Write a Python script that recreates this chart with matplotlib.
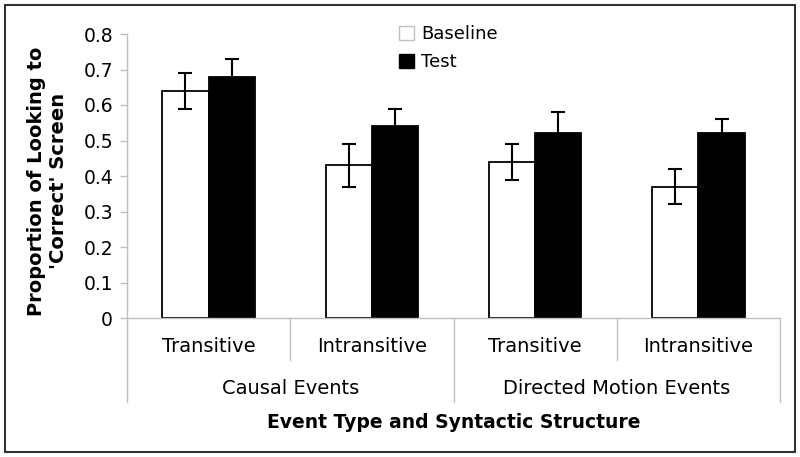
import matplotlib
matplotlib.use("Agg")
import matplotlib.pyplot as plt
from matplotlib.patches import Rectangle
import numpy as np

plt.rcParams['font.family'] = ['DejaVu Sans']

sub_labels = ["Transitive", "Intransitive", "Transitive", "Intransitive"]
group_labels = ["Causal Events", "Directed Motion Events"]
series_names = ["Baseline", "Test"]
baseline = [0.64, 0.43, 0.44, 0.37]
baseline_err = [0.05, 0.06, 0.05, 0.05]
test = [0.68, 0.54, 0.52, 0.52]
test_err = [0.05, 0.05, 0.06, 0.04]
yticks = [0, 0.1, 0.2, 0.3, 0.4, 0.5, 0.6, 0.7, 0.8]

W, H = 800, 457
fig = plt.figure(figsize=(W/100, H/100), dpi=100)
ax = fig.add_axes([127/W, 1-318/H, (780-127)/W, (318-34)/H])

x = np.arange(len(sub_labels)) + 0.5
w = 0.284
gray = "#c0c0c0"

ax.bar(x - w/2, baseline, w, color="white", edgecolor="black", linewidth=1.3, label=series_names[0], zorder=2)
ax.bar(x + w/2, test, w, color="black", edgecolor="black", linewidth=1.3, label=series_names[1], zorder=2)
ax.errorbar(x - w/2, baseline, yerr=baseline_err, fmt="none", ecolor="black", elinewidth=1.5, capsize=5, capthick=1.5, zorder=3)
ax.errorbar(x + w/2, test, yerr=test_err, fmt="none", ecolor="black", elinewidth=1.5, capsize=5, capthick=1.5, zorder=3)

ax.set_xlim(0, 4)
ax.set_ylim(0, 0.8)
ax.set_yticks(yticks)
ax.set_yticklabels([("0" if v == 0 else f"{v:.1f}") for v in yticks], fontsize=13.5)
ax.tick_params(axis="y", direction="out", length=5, color=gray, width=1, pad=5)
ax.set_xticks([])
for s in ["top", "right"]:
    ax.spines[s].set_visible(False)
for s in ["left", "bottom"]:
    ax.spines[s].set_color(gray)
    ax.spines[s].set_linewidth(1)

tr = ax.get_xaxis_transform()
ah = 318 - 34
inner_y = -42/ah
outer_y = -84/ah
for xv in [1, 3]:
    ax.plot([xv, xv], [0, inner_y], transform=tr, color=gray, lw=1, clip_on=False)
for xv in [0, 2, 4]:
    ax.plot([xv, xv], [0, outer_y], transform=tr, color=gray, lw=1, clip_on=False)
for xi, lab in zip(x, sub_labels):
    ax.text(xi, -29/ah, lab, transform=tr, ha="center", va="center", fontsize=14)
for gi, lab in enumerate(group_labels):
    ax.text(2*gi + 1, -71/ah, lab, transform=tr, ha="center", va="center", fontsize=14)
ax.text(2, -105/ah, "Event Type and Syntactic Structure", transform=tr, ha="center", va="center",
        fontsize=13.5, fontweight="bold")

ax.set_ylabel("Proportion of Looking to\n'Correct' Screen", fontsize=14, fontweight="bold", linespacing=1.2)
ax.yaxis.set_label_coords((68-127)/(780-127), 0.5 - 5/ah)

handles = [Rectangle((0, 0), 1, 1, facecolor="white", edgecolor=gray, lw=1),
           Rectangle((0, 0), 1, 1, facecolor="black", edgecolor="black", lw=1)]
leg = fig.legend(handles, series_names, loc="upper left", bbox_to_anchor=(392/W, 1-18/H),
                 frameon=False, fontsize=13, handlelength=0.8, handleheight=0.8,
                 handletextpad=0.4, labelspacing=0.55, borderaxespad=0)

fig.patches.append(Rectangle((5/W, 5/H), 790/W, 447/H, transform=fig.transFigure,
                             fill=False, edgecolor="#333333", lw=1.5))

fig.savefig("out.png", dpi=100)
